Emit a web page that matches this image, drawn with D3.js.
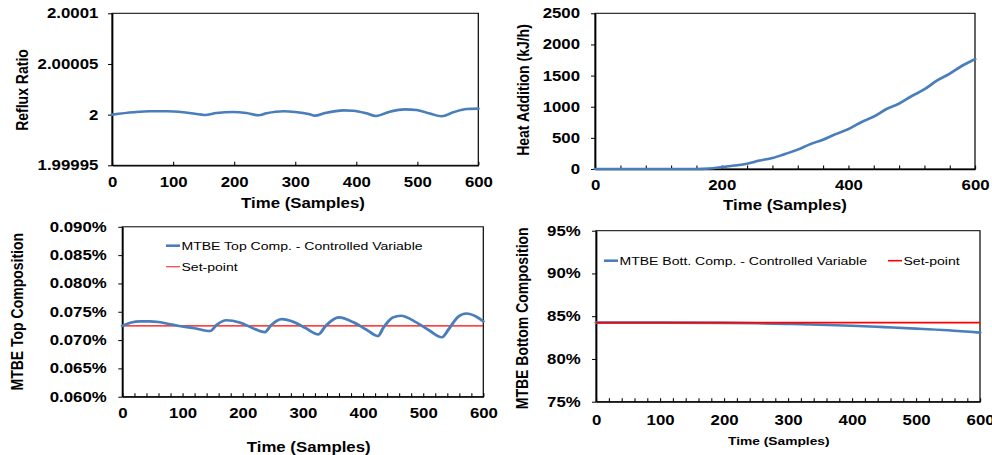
<!DOCTYPE html>
<html>
<head>
<meta charset="utf-8">
<script src="https://cdn.jsdelivr.net/npm/d3@7"></script>
<style>
  html, body { margin: 0; padding: 0; background: #fff; overflow: hidden; }
  text { font-family: "Liberation Sans", Arial, sans-serif; fill: #000; }
</style>
</head>
<body>
<svg id="chart"></svg>
<script>
// ---- Reflux ratio (top-left) ----
const refluxTime  = [0, 35, 62, 90, 117, 147, 152, 171, 199, 220, 240, 253, 281, 300, 324, 332, 349, 379, 395, 417, 432, 455, 480, 499, 521, 540, 559, 581, 600];
const refluxRatio = [2.0000000, 2.0000023, 2.0000033, 2.0000033, 2.0000023, 2.0000000, 1.9999997, 2.0000016, 2.0000026, 2.0000016, 1.9999994,
                     2.0000013, 2.0000033, 2.0000026, 2.0000003, 1.9999990, 2.0000016, 2.0000042, 2.0000039, 2.0000013, 1.9999987,
                     2.0000029, 2.0000052, 2.0000046, 2.0000010, 1.9999984, 2.0000023, 2.0000056, 2.0000059];
const refluxTicks = [1.99995, 2, 2.00005, 2.0001];
const refluxTickLabels = ["1.99995", "2", "2.00005", "2.0001"];

// ---- Heat addition (top-right) ----
const heatTime = [0, 20, 40, 60, 80, 100, 120, 140, 160, 180, 200, 220, 240, 260, 280, 300, 320, 340, 360, 380, 400, 420, 440, 460, 480, 500, 520, 540, 560, 580, 600];
const heatAddition = [0, 0, 0, 0, 0, 0, 0, 0, 0, 8, 30, 55, 85, 135, 175, 240, 310, 400, 470, 560, 640, 750, 840, 960, 1050, 1170, 1280, 1420, 1530, 1660, 1765];
const heatTicks = [0, 500, 1000, 1500, 2000, 2500];

// ---- MTBE top composition, % (bottom-left) ----
const topTime = [0, 15, 30, 45, 60, 80, 100, 120, 146, 157, 173, 195, 215, 237, 247, 265, 285, 305, 326, 338, 360, 385, 405, 425, 434, 450, 463, 489, 510, 531, 543, 558, 572, 589, 600];
const topComp = [0.0725, 0.0731, 0.0733, 0.0733, 0.0732, 0.0728, 0.0724, 0.0721, 0.0716, 0.0727, 0.0735, 0.0731, 0.0722, 0.0714, 0.0726,
                 0.0737, 0.0732, 0.0721, 0.0710, 0.0725, 0.0740, 0.0731, 0.0719, 0.0707, 0.0722, 0.0740, 0.0743, 0.0731, 0.0717,
                 0.0705, 0.0720, 0.0741, 0.0747, 0.0741, 0.0733];
const topSetPoint = 0.0725;
const topTicks = [0.060, 0.065, 0.070, 0.075, 0.080, 0.085, 0.090];

// ---- MTBE bottom composition, % (bottom-right) ----
const botTime = [0, 100, 200, 250, 300, 350, 400, 450, 500, 550, 600];
const botComp = [84.25, 84.25, 84.22, 84.18, 84.10, 84.00, 83.88, 83.72, 83.55, 83.35, 83.08];
const botSetPoint = 84.25;
const botTicks = [75, 80, 85, 90, 95];

const sampleTicks100 = [0, 100, 200, 300, 400, 500, 600];
const sampleTicks200 = [0, 200, 400, 600];

// The figure is laid out in a narrower coordinate space and stretched horizontally.
const SX = 1.2;
const W = 992, H = 455;
const svg = d3.select("#chart")
  .attr("width", W).attr("height", H)
  .attr("viewBox", `0 0 ${W / SX} ${H}`)
  .attr("preserveAspectRatio", "none");

const BLUE = "#4A7EBB", RED = "#FF0000";
const FONT_TICK = 14;

function panel(cfg) {
  const g = svg.append("g");
  const x = d3.scaleLinear().domain([0, 600]).range([cfg.left / SX, cfg.right / SX]);
  const y = d3.scaleLinear().domain(cfg.yDomain).range([cfg.bottom, cfg.top]);

  // frame
  g.append("rect")
    .attr("x", x(0)).attr("y", y(cfg.yDomain[1]))
    .attr("width", x(600) - x(0)).attr("height", y(cfg.yDomain[0]) - y(cfg.yDomain[1]))
    .attr("fill", "none").attr("stroke", "#000").attr("stroke-width", 1);

  // minor ticks pointing into the plot
  const minor = g.append("g").attr("transform", `translate(0,${y(cfg.yDomain[0])})`)
    .call(d3.axisBottom(x).tickValues(cfg.xMinor).tickSize(-3.5).tickFormat(""));
  minor.select(".domain").remove();
  minor.selectAll("line").attr("stroke", "#000").attr("stroke-width", 0.9);

  // x labels
  const xAx = g.append("g").attr("transform", `translate(0,${y(cfg.yDomain[0])})`)
    .call(d3.axisBottom(x).tickValues(cfg.xLabels).tickSize(0)
      .tickPadding(cfg.xLabelY - cfg.bottom - 0.36 * FONT_TICK));
  xAx.select(".domain").attr("stroke", "#000").attr("stroke-width", 1.3);
  xAx.selectAll("text").attr("font-size", FONT_TICK).attr("font-weight", "bold")
    .attr("font-family", "'Liberation Sans', Arial, sans-serif");

  // y axis
  const gap = (cfg.left - cfg.yLabelRight) / SX;
  const yAx = g.append("g").attr("transform", `translate(${x(0)},0)`)
    .call(d3.axisLeft(y).tickValues(cfg.yTicks).tickSize(4 / SX).tickSizeOuter(0)
      .tickPadding(gap - 4 / SX)
      .tickFormat((d, i) => cfg.yFormat(d, i)));
  yAx.select(".domain").attr("stroke", "#000").attr("stroke-width", 1.3);
  yAx.selectAll("line").attr("stroke", "#000");
  yAx.selectAll("text").attr("font-size", FONT_TICK).attr("font-weight", "bold")
    .attr("font-family", "'Liberation Sans', Arial, sans-serif");

  // axis titles
  g.append("text")
    .attr("x", cfg.xTitle[0] / SX).attr("y", cfg.xTitle[1] + 0.36 * cfg.xTitle[2])
    .attr("text-anchor", "middle").attr("font-size", cfg.xTitle[2]).attr("font-weight", "bold")
    .text("Time (Samples)");
  g.append("text")
    .attr("transform", `translate(${cfg.yTitle[0] / SX + 0.36 * 14 / SX},${cfg.yTitle[1]}) rotate(-90)`)
    .attr("text-anchor", "middle").attr("font-size", 14).attr("font-weight", "bold")
    .text(cfg.yTitle[2]);

  return { g, x, y };
}

function drawLine(p, xs, ys, color, width, curve) {
  const data = xs.map((t, i) => [t, ys[i]]);
  p.g.append("path").datum(data)
    .attr("fill", "none").attr("stroke", color).attr("stroke-width", width)
    .attr("stroke-linejoin", "round").attr("stroke-linecap", "round")
    .attr("d", d3.line().x(d => p.x(d[0])).y(d => p.y(d[1])).curve(curve || d3.curveMonotoneX));
}

function legendItem(p, x1, x2, y, color, width, label) {
  p.g.append("line")
    .attr("x1", x1 / SX).attr("x2", x2 / SX).attr("y1", y).attr("y2", y)
    .attr("stroke", color).attr("stroke-width", width);
  p.g.append("text")
    .attr("x", (x2 + 1.5) / SX).attr("y", y + 4.1)
    .attr("font-size", 11.7).text(label);
}

// Reflux ratio
const p1 = panel({
  left: 112, right: 478.3, top: 13.3, bottom: 165.3,
  yDomain: [1.99995, 2.0001], yTicks: refluxTicks,
  yFormat: (d, i) => refluxTickLabels[i], yLabelRight: 98.3,
  xLabels: sampleTicks100, xMinor: sampleTicks100, xLabelY: 182.3,
  xTitle: [303, 203.3, 14], yTitle: [22.5, 90, "Reflux Ratio"]
});
drawLine(p1, refluxTime, refluxRatio, BLUE, 2.6);

// Heat addition
const p2 = panel({
  left: 595, right: 975, top: 13.3, bottom: 169,
  yDomain: [0, 2500], yTicks: heatTicks,
  yFormat: d => d3.format("d")(d), yLabelRight: 580,
  xLabels: sampleTicks200, xMinor: d3.range(0, 601, 40), xLabelY: 185,
  xTitle: [785, 205, 14], yTitle: [524, 90, "Heat Addition (kJ/h)"]
});
drawLine(p2, heatTime, heatAddition, BLUE, 2.6);

// MTBE top composition
const p3 = panel({
  left: 122.3, right: 483.3, top: 226.8, bottom: 396.7,
  yDomain: [0.060, 0.090], yTicks: topTicks,
  yFormat: d => d3.format(".3f")(d) + "%", yLabelRight: 106.7,
  xLabels: sampleTicks100, xMinor: d3.range(0, 601, 20), xLabelY: 413.3,
  xTitle: [308.7, 446.7, 14], yTitle: [18.3, 311.7, "MTBE Top Composition"]
});
p3.g.append("line")
  .attr("x1", p3.x(0)).attr("x2", p3.x(600))
  .attr("y1", p3.y(topSetPoint)).attr("y2", p3.y(topSetPoint))
  .attr("stroke", RED).attr("stroke-width", 1.3);
drawLine(p3, topTime, topComp, BLUE, 2.6);
p3.g.select("path").raise();
legendItem(p3, 166, 180, 245.7, BLUE, 2.6, "MTBE Top Comp. - Controlled Variable");
legendItem(p3, 166, 180, 266.7, "#F05050", 1.3, "Set-point");

// MTBE bottom composition
const p4 = panel({
  left: 596, right: 980, top: 230.7, bottom: 401.7,
  yDomain: [75, 95], yTicks: botTicks,
  yFormat: d => d + "%", yLabelRight: 580.7,
  xLabels: sampleTicks100, xMinor: d3.range(0, 601, 20), xLabelY: 420,
  xTitle: [778.8, 441, 11.5], yTitle: [522.7, 318.3, "MTBE Bottom Composition"]
});
drawLine(p4, botTime, botComp, BLUE, 2.6);
p4.g.append("line")
  .attr("x1", p4.x(0)).attr("x2", p4.x(600))
  .attr("y1", p4.y(botSetPoint)).attr("y2", p4.y(botSetPoint))
  .attr("stroke", RED).attr("stroke-width", 1.6);
legendItem(p4, 604, 618, 260.7, BLUE, 2.6, "MTBE Bott. Comp. - Controlled Variable");
legendItem(p4, 888, 902, 260.7, RED, 1.6, "Set-point");
</script>
</body>
</html>
